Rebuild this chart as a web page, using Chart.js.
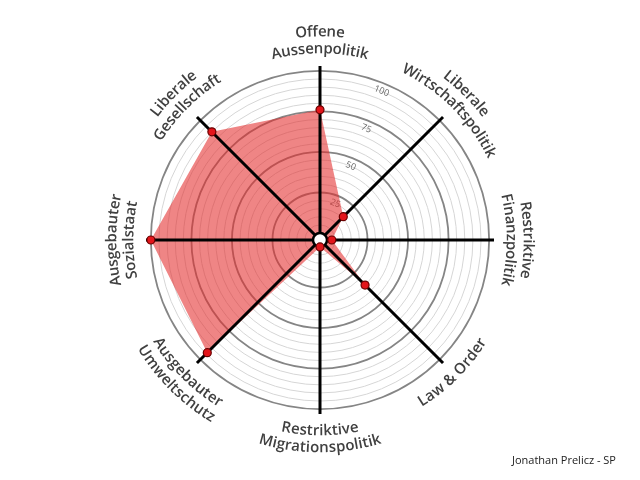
<!DOCTYPE html>
<html>
<head>
<meta charset="utf-8">
<script src="https://cdn.jsdelivr.net/npm/chart.js@4"></script>
<style>
  body { margin: 0; background: #fff; }
  #wrap { width: 640px; height: 480px; position: relative; }
</style>
</head>
<body>
<div id="wrap"><canvas id="spider"></canvas></div>
<script>
// --- data ---
const axisLabels = [
  ["Offene", "Aussenpolitik"],
  ["Liberale", "Wirtschaftspolitik"],
  ["Restriktive", "Finanzpolitik"],
  ["Law & Order"],
  ["Restriktive", "Migrationspolitik"],
  ["Ausgebauter", "Umweltschutz"],
  ["Ausgebauter", "Sozialstaat"],
  ["Liberale", "Gesellschaft"]
];
const scores = [76, 16, 3, 35, 0, 94, 100, 90];
const gridValues = [0, 5, 10, 15, 20, 25, 30, 35, 40, 45, 50, 55, 60, 65, 70, 75, 80, 85, 90, 95, 100];
const tickLabels = [25, 50, 75, 100];
const credit = "Jonathan Prelicz - SP";

const FONT = "'Open Sans', sans-serif";

// text along a circle, one glyph at a time
function arcText(ctx, text, cx, cy, r, angle, upright) {
  const widths = [...text].map(ch => ctx.measureText(ch).width);
  const total = widths.reduce((a, b) => a + b, 0);
  let a = upright ? angle - total / (2 * r) : angle + total / (2 * r);
  [...text].forEach((ch, i) => {
    const w = widths[i];
    const mid = upright ? a + w / (2 * r) : a - w / (2 * r);
    ctx.save();
    ctx.translate(cx + r * Math.sin(mid), cy - r * Math.cos(mid));
    ctx.rotate(upright ? mid : mid - Math.PI);
    ctx.fillText(ch, 0, 0);
    ctx.restore();
    a = upright ? a + w / r : a - w / r;
  });
}

const spiderDecor = {
  id: "spiderDecor",
  beforeDatasetsDraw(chart) {
    // value labels along the 22.5 deg direction
    const s = chart.scales.r, ctx = chart.ctx;
    const ang = Math.PI / 8;
    ctx.save();
    ctx.fillStyle = "#666";
    ctx.font = "9px " + FONT;
    ctx.textAlign = "center";
    ctx.textBaseline = "middle";
    tickLabels.forEach(v => {
      const r = s.getDistanceFromCenterForValue(v) - 8;
      ctx.save();
      ctx.translate(s.xCenter + r * Math.sin(ang), s.yCenter - r * Math.cos(ang));
      ctx.rotate(ang);
      ctx.fillText(String(v), 0, 0);
      ctx.restore();
    });
    ctx.restore();
  },
  afterDatasetDraw(chart, args) {
    if (args.index !== 0) return;
    // axis spokes and hub on top of the fill, below the dots
    const s = chart.scales.r, ctx = chart.ctx;
    const end = s.getDistanceFromCenterForValue(s.max);
    ctx.save();
    ctx.strokeStyle = "#000";
    ctx.lineWidth = 3;
    axisLabels.forEach((_, i) => {
      const p = s.getPointPosition(i, end);
      ctx.beginPath();
      ctx.moveTo(s.xCenter, s.yCenter);
      ctx.lineTo(p.x, p.y);
      ctx.stroke();
    });
    ctx.beginPath();
    ctx.arc(s.xCenter, s.yCenter, 7, 0, Math.PI * 2);
    ctx.fillStyle = "#fff";
    ctx.fill();
    ctx.lineWidth = 2.5;
    ctx.stroke();
    ctx.restore();
  },
  afterDraw(chart) {
    const s = chart.scales.r, ctx = chart.ctx;
    ctx.save();
    ctx.fillStyle = "#404040";
    ctx.font = "600 15px " + FONT;
    ctx.textAlign = "center";
    ctx.textBaseline = "middle";
    const inner = s.drawingArea + 17, outer = s.drawingArea + 34;
    axisLabels.forEach((lines, i) => {
      const a = s.getIndexAngle(i);
      const deg = a * 180 / Math.PI;
      const upright = !(deg > 91 && deg < 269);
      lines.forEach((txt, j) => {
        let r;
        if (upright) r = lines.length === 1 ? inner : (j === 0 ? outer : inner);
        else r = j === 0 ? inner : outer;
        arcText(ctx, txt, s.xCenter, s.yCenter, r, a, upright);
      });
    });
    ctx.fillStyle = "#222";
    ctx.font = "11px " + FONT;
    ctx.textAlign = "left";
    ctx.fillText(credit, 512, 461);
    ctx.restore();
  }
};

new Chart(document.getElementById("spider"), {
  type: "radar",
  data: {
    labels: axisLabels,
    datasets: [
      {
        data: scores,
        backgroundColor: "rgba(228, 45, 45, 0.58)",
        borderWidth: 0,
        fill: true,
        pointRadius: 0,
        order: 2
      },
      {
        data: scores,
        showLine: false,
        fill: false,
        borderWidth: 0,
        pointRadius: 4,
        pointBackgroundColor: "#e3151b",
        pointBorderColor: "#6a0000",
        pointBorderWidth: 1.2,
        order: 1
      }
    ]
  },
  options: {
    responsive: true,
    maintainAspectRatio: false,
    animation: false,
    layout: { padding: { top: 66, bottom: 66, left: 100, right: 100 } },
    plugins: { legend: { display: false }, tooltip: { enabled: false } },
    scales: {
      r: {
        min: -4.3,
        max: 103,
        afterBuildTicks: axis => { axis.ticks = gridValues.map(v => ({ value: v })); },
        ticks: { display: false },
        pointLabels: { display: false },
        angleLines: { display: false },
        grid: {
          circular: true,
          color: c => (c.tick && c.tick.value % 25 === 0 ? "#858585" : "#d6d6d6"),
          lineWidth: c => (c.tick && c.tick.value % 25 === 0 ? 1.8 : 1)
        }
      }
    }
  },
  plugins: [spiderDecor]
});
</script>
</body>
</html>
